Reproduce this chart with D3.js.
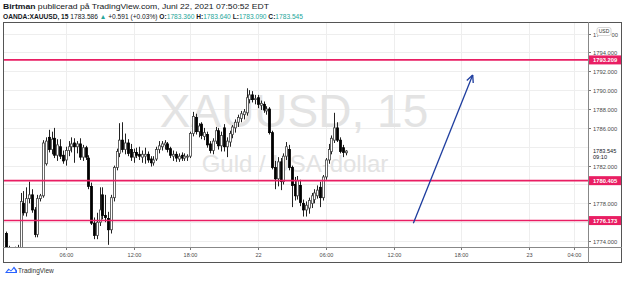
<!DOCTYPE html>
<html>
<head>
<meta charset="utf-8">
<script src="https://cdn.jsdelivr.net/npm/d3@7"></script>
<style>
html, body { margin: 0; padding: 0; background: #fff; }
svg { display: block; font-family: "Liberation Sans", Arial, sans-serif; }
</style>
</head>
<body>
<script>
// 15 minute bars, index 1 = first visible bar (Jun 21 ~00:45)
const opens = [1774.8,1773.2,1773.0,1772.8,1773.1,1773.3,1778.0,1777.0,1778.5,1778.9,
  1777.3,1774.7,1778.5,1778.8,1782.2,1785.0,1783.7,1784.9,1783.1,1784.0,
  1783.1,1782.6,1783.6,1784.0,1784.4,1784.0,1784.3,1782.9,1783.9,1782.8,
  1779.8,1775.9,1774.6,1776.0,1778.9,1776.7,1776.4,1775.2,1778.6,1781.8,
  1783.3,1784.7,1783.7,1784.4,1783.7,1782.9,1783.4,1783.2,1782.9,1783.0,
  1783.2,1782.7,1782.3,1782.7,1783.7,1784.0,1784.2,1784.3,1783.8,1783.0,
  1783.2,1782.7,1783.1,1782.8,1782.9,1783.0,1785.4,1787.1,1785.6,1786.4,
  1785.1,1785.3,1784.3,1783.6,1784.6,1785.7,1784.1,1786.0,1784.0,1784.5,
  1785.3,1786.0,1786.6,1787.0,1787.4,1787.6,1789.0,1789.5,1789.0,1789.2,
  1788.4,1788.5,1787.8,1788.0,1785.5,1781.8,1780.6,1782.4,1780.3,1783.0,
  1783.7,1781.8,1780.0,1778.8,1779.9,1778.0,1777.3,1777.5,1778.0,1778.4,
  1778.8,1779.7,1778.6,1780.8,1782.6,1783.5,1784.7,1786.0,1784.7,1783.9,1783.36];
const highs = [1775.0,1773.5,1773.3,1773.4,1773.6,1779.1,1779.3,1779.7,1780.3,1779.5,
  1777.6,1778.9,1779.0,1784.7,1785.0,1785.8,1785.6,1786.0,1784.8,1784.8,
  1783.6,1784.0,1784.6,1785.0,1784.9,1784.6,1784.9,1784.2,1784.1,1783.1,
  1780.2,1776.5,1777.0,1779.7,1779.7,1778.9,1777.1,1778.9,1782.0,1783.8,
  1786.5,1786.6,1785.4,1784.8,1784.3,1783.8,1783.9,1784.0,1783.6,1783.9,
  1783.5,1783.0,1783.0,1784.0,1784.6,1784.6,1784.7,1784.5,1784.0,1783.6,
  1783.5,1783.3,1783.4,1783.3,1783.2,1785.6,1787.7,1787.5,1786.5,1786.6,
  1786.0,1785.6,1784.6,1784.9,1786.1,1786.0,1785.6,1786.4,1785.0,1785.7,
  1786.3,1786.9,1787.4,1787.8,1788.0,1790.2,1790.0,1789.9,1789.5,1789.5,
  1788.9,1788.8,1788.3,1788.2,1785.7,1782.5,1782.9,1782.8,1783.3,1784.5,
  1784.2,1782.0,1780.8,1780.9,1780.5,1778.4,1778.2,1778.6,1779.1,1779.5,
  1779.9,1780.3,1781.0,1782.8,1784.3,1785.2,1787.6,1786.6,1785.0,1784.2,1783.64];
const lows = [1773.0,1772.6,1772.5,1772.6,1772.9,1773.1,1776.7,1776.6,1778.0,1777.0,
  1774.4,1774.4,1778.2,1778.6,1782.0,1783.4,1783.2,1782.8,1782.5,1782.7,
  1782.2,1782.0,1783.0,1783.4,1782.3,1783.3,1782.6,1782.5,1782.6,1779.5,
  1775.7,1774.2,1774.2,1775.6,1776.3,1776.0,1773.6,1774.8,1778.2,1781.5,
  1782.9,1783.4,1783.2,1783.0,1782.5,1782.3,1782.8,1782.6,1782.3,1782.2,
  1782.3,1781.9,1782.0,1782.5,1783.3,1783.6,1783.7,1783.4,1782.8,1782.5,
  1782.4,1782.4,1782.5,1782.5,1782.5,1782.8,1785.1,1785.3,1785.0,1784.8,
  1784.7,1783.9,1783.3,1783.2,1784.3,1783.7,1783.5,1783.5,1782.9,1784.0,
  1784.9,1785.5,1786.1,1786.6,1786.9,1787.3,1788.6,1788.7,1788.5,1788.1,
  1787.9,1787.6,1787.4,1785.3,1781.6,1779.5,1779.8,1779.4,1780.0,1782.6,
  1781.5,1777.6,1778.3,1778.4,1777.7,1776.6,1776.6,1776.9,1777.5,1778.0,
  1778.5,1777.6,1778.3,1780.5,1782.2,1783.2,1784.4,1784.5,1783.3,1782.9,1783.09];
const closes = [1773.2,1773.0,1772.8,1773.1,1773.3,1778.2,1777.0,1778.5,1778.9,1777.3,
  1774.7,1778.5,1778.8,1784.4,1784.6,1783.7,1784.8,1783.1,1784.2,1783.0,
  1782.5,1783.6,1784.0,1784.3,1784.0,1784.3,1782.9,1783.9,1782.9,1779.8,
  1775.9,1774.6,1776.0,1777.3,1776.7,1776.5,1775.2,1778.6,1781.8,1783.5,
  1784.7,1783.7,1784.4,1783.3,1782.9,1783.4,1783.1,1783.0,1783.2,1783.2,
  1782.6,1782.3,1782.6,1783.7,1784.1,1784.3,1784.4,1783.7,1783.1,1783.2,
  1782.8,1783.0,1782.8,1783.0,1783.0,1785.4,1787.2,1785.6,1786.2,1785.2,
  1785.5,1784.2,1783.6,1784.6,1785.7,1784.1,1785.2,1784.0,1784.6,1785.4,
  1786.1,1786.6,1787.1,1787.5,1787.7,1789.2,1789.5,1789.0,1789.1,1788.5,
  1788.6,1787.9,1788.0,1785.5,1781.8,1780.6,1782.4,1780.3,1783.0,1784.0,
  1781.8,1779.9,1778.8,1780.4,1778.1,1777.3,1777.8,1778.3,1778.8,1779.1,
  1779.4,1778.6,1780.8,1782.6,1783.7,1784.9,1786.0,1784.7,1783.5,1783.4,1783.545];

const tickBars = [22, 46, 66, 90, 114, 138, 162, 186, 202];
const tickLabels = ["06:00", "12:00", "18:00", "22", "06:00", "12:00", "18:00", "23", "04:00"];
const priceTicks = [1774, 1776, 1778, 1780, 1782, 1784, 1786, 1788, 1790, 1792, 1794, 1796];
const levels = [1793.209, 1780.405, 1776.173];
const arrowBars = [145, 166];
const arrowPrices = [1775.9, 1791.6];
const lastPrice = 1783.545;

const bars = opens.map((o, k) => ({ i: k + 1, o, h: highs[k], l: lows[k], c: closes[k] }));

const W = 625, H = 283;
const plot = { left: 3, top: 22, right: 588, bottom: 247 };
const frame = { right: 622, bottom: 263 };
const AXIS_FONT = 5.8;

const svg = d3.select("body").append("svg").attr("width", W).attr("height", H);

const x = d3.scaleLinear().domain([-0.2, 206.8]).range([plot.left, plot.right]);
const y = d3.scaleLinear().domain([1773.37, 1797.23]).range([plot.bottom, plot.top]);

// header, squeezed to the widths seen in the snapshot
const head1 = svg.append("text").attr("x", 3).attr("y", 8.5).attr("font-size", 6.8).attr("fill", "#131722");
head1.append("tspan").attr("font-weight", "bold").text("Birtman");
head1.append("tspan").text(" publicerad på TradingView.com, Juni 22, 2021 07:50:52 EDT");
head1.attr("textLength", 266).attr("lengthAdjust", "spacingAndGlyphs");

const teal = "#26a69a";
const head2 = svg.append("text").attr("x", 3).attr("y", 18.5).attr("font-size", 6.8).attr("fill", "#131722");
head2.append("tspan").attr("font-weight", "bold").text("OANDA:XAUUSD, 15");
head2.append("tspan").text(" 1783.586 ");
head2.append("tspan").attr("fill", teal).text("▲");
head2.append("tspan").text(" +0.591 (+0.03%)");
[["O:", "1783.360"], ["H:", "1783.640"], ["L:", "1783.090"], ["C:", "1783.545"]].forEach(([k, v]) => {
  head2.append("tspan").attr("font-weight", "bold").text(" " + k);
  head2.append("tspan").attr("fill", teal).text(v);
});
head2.attr("textLength", 300).attr("lengthAdjust", "spacingAndGlyphs");

// clip
svg.append("clipPath").attr("id", "clip").append("rect")
  .attr("x", plot.left).attr("y", plot.top)
  .attr("width", plot.right - plot.left).attr("height", plot.bottom - plot.top);

const grid = svg.append("g").attr("clip-path", "url(#clip)");
grid.selectAll("line.h").data(priceTicks).enter().append("line")
  .attr("x1", plot.left).attr("x2", plot.right)
  .attr("y1", d => Math.round(y(d)) + 0.5).attr("y2", d => Math.round(y(d)) + 0.5)
  .attr("stroke", "#eeeeee");
grid.selectAll("line.v").data(tickBars).enter().append("line")
  .attr("y1", plot.top).attr("y2", plot.bottom)
  .attr("x1", d => Math.round(x(d)) + 0.5).attr("x2", d => Math.round(x(d)) + 0.5)
  .attr("stroke", "#eeeeee");

// watermark
svg.append("text").attr("x", 294).attr("y", 127).attr("text-anchor", "middle")
  .attr("font-size", 46).attr("fill", "#e3e3e3").text("XAUUSD, 15");
svg.append("text").attr("x", 295).attr("y", 172).attr("text-anchor", "middle")
  .attr("font-size", 24).attr("fill", "#e3e3e3").text("Guld / USA-dollar");

// candles
const cg = svg.append("g").attr("clip-path", "url(#clip)");
const candle = cg.selectAll("g.bar").data(bars).enter().append("g");
candle.append("line")
  .attr("x1", d => Math.round(x(d.i)) + 0.5).attr("x2", d => Math.round(x(d.i)) + 0.5)
  .attr("y1", d => y(d.h)).attr("y2", d => y(d.l))
  .attr("stroke", "#222").attr("stroke-width", 1);
candle.append("rect")
  .attr("x", d => Math.round(x(d.i)) - 0.5)
  .attr("width", 2)
  .attr("y", d => y(Math.max(d.o, d.c)))
  .attr("height", d => Math.max(0.8, Math.abs(y(d.o) - y(d.c))))
  .attr("fill", d => d.c >= d.o ? "#fff" : "#000")
  .attr("stroke", d => d.c >= d.o ? "#444" : "#000")
  .attr("stroke-width", 0.8);

// horizontal levels
const red = "#e91e63";
cg.selectAll("line.lvl").data(levels).enter().append("line")
  .attr("x1", plot.left).attr("x2", plot.right)
  .attr("y1", d => y(d)).attr("y2", d => y(d))
  .attr("stroke", red).attr("stroke-width", 1.6);

// arrow
const blue = "#1e3d9e";
const ax1 = x(arrowBars[0]), ay1 = y(arrowPrices[0]);
const ax2 = x(arrowBars[1]), ay2 = y(arrowPrices[1]);
cg.append("line").attr("x1", ax1).attr("y1", ay1).attr("x2", ax2).attr("y2", ay2)
  .attr("stroke", blue).attr("stroke-width", 1.3);
const ang = Math.atan2(ay2 - ay1, ax2 - ax1);
[0.45, -0.45].forEach(da => {
  cg.append("line").attr("x1", ax2).attr("y1", ay2)
    .attr("x2", ax2 - 8 * Math.cos(ang + da)).attr("y2", ay2 - 8 * Math.sin(ang + da))
    .attr("stroke", blue).attr("stroke-width", 1.3);
});

// price axis; labels hidden behind a badge are skipped
const badgePrices = levels.concat([lastPrice]);
const covered = p => badgePrices.some(b => Math.abs(y(p) - y(b)) < 6);
const pa = svg.append("g");
priceTicks.forEach(p => {
  const yy = Math.round(y(p)) + 0.5;
  pa.append("line").attr("x1", plot.right).attr("x2", plot.right + 3).attr("y1", yy).attr("y2", yy).attr("stroke", "#777");
  if (covered(p)) return;
  const lbl = pa.append("text").attr("x", plot.right + 5).attr("y", yy + 2.1).attr("font-size", AXIS_FONT)
    .attr("fill", "#4a4a4a");
  if (p === 1796) {
    // top label sits under the USD badge; only its ends show
    lbl.append("tspan").text("17");
    lbl.append("tspan").attr("x", 611.5).text("00");
  } else {
    lbl.text(d3.format(".3f")(p));
  }
});
// USD badge
pa.append("rect").attr("x", 597).attr("y", 27.5).attr("width", 14).attr("height", 8).attr("rx", 2)
  .attr("fill", "#fff").attr("stroke", "#bbb").attr("stroke-width", 0.6);
pa.append("text").attr("x", 604).attr("y", 33.3).attr("text-anchor", "middle")
  .attr("font-size", 5).attr("fill", "#333").text("USD");

// current price badge
const yl = y(lastPrice);
pa.append("rect").attr("x", plot.right + 1).attr("y", yl - 4).attr("width", 32).attr("height", 12).attr("fill", "#fff");
pa.append("text").attr("x", plot.right + 5).attr("y", yl + 2).attr("font-size", 5.6).attr("fill", "#131722").text(d3.format(".3f")(lastPrice));
pa.append("text").attr("x", plot.right + 5).attr("y", yl + 7.5).attr("font-size", 5.6).attr("fill", "#131722").text("09:10");

// level badges
levels.forEach(p => {
  const yy = y(p);
  pa.append("rect").attr("x", plot.right + 1).attr("y", yy - 4.5).attr("width", 32).attr("height", 9).attr("fill", red);
  pa.append("text").attr("x", plot.right + 5).attr("y", yy + 2.1).attr("font-size", AXIS_FONT)
    .attr("font-weight", "bold").attr("fill", "#fff").text(d3.format(".3f")(p));
});

// time axis
const ta = svg.append("g");
tickBars.forEach((b, k) => {
  const xx = Math.round(x(b)) + 0.5;
  ta.append("line").attr("x1", xx).attr("x2", xx).attr("y1", plot.bottom).attr("y2", plot.bottom + 3).attr("stroke", "#777");
  ta.append("text").attr("x", xx).attr("y", 256.5).attr("text-anchor", "middle").attr("font-size", 5.5)
    .attr("fill", "#4a4a4a").text(tickLabels[k]);
});

// frame
const fr = svg.append("g").attr("fill", "none").attr("stroke", "#555");
fr.append("rect").attr("x", plot.left + 0.5).attr("y", plot.top + 0.5)
  .attr("width", frame.right - plot.left - 1).attr("height", frame.bottom - plot.top - 1);
fr.append("line").attr("x1", plot.right + 0.5).attr("x2", plot.right + 0.5).attr("y1", plot.top).attr("y2", frame.bottom).attr("stroke", "#888");
fr.append("line").attr("x1", plot.left).attr("x2", frame.right).attr("y1", plot.bottom + 0.5).attr("y2", plot.bottom + 0.5).attr("stroke", "#888");

// footer logo
const logo = svg.append("g").attr("transform", "translate(5,266)");
logo.append("path").attr("d", "M0,7 L3.5,2.5 L6,4.5 L9,0.5 L12,4.5 L12,7 Z").attr("fill", "#2962ff");
logo.append("path").attr("d", "M2,6 L4,4 L6,5.6 L9,2.6 L10.4,5 L10.4,6 Z").attr("fill", "#fff");
svg.append("text").attr("x", 18).attr("y", 272.5).attr("font-size", 6.5).attr("fill", "#333").text("TradingView");
</script>
</body>
</html>
